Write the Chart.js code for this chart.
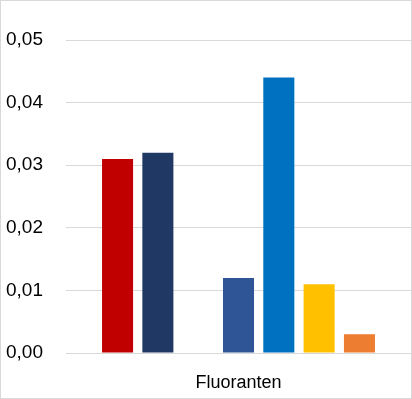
<!DOCTYPE html>
<html lang="en">
<head>
    <meta charset="UTF-8">
    <title>Fluoranten</title>
    <style>
        body { margin: 0; background: #fff; }
        #wrap {
            width: 410px;
            height: 397px;
            border: 1px solid #d9d9d9;
        }
        canvas { display: block; }
    </style>
</head>
<body>
    <div id="wrap"><canvas id="chart" width="410" height="397"></canvas></div>
    <script src="https://cdn.jsdelivr.net/npm/chart.js"></script>
    <script>
        const categories = ['Fluoranten'];
        const seriesNames = ['S1', 'S2', 'S3', 'S4', 'S5', 'S6', 'S7'];
        const seriesValues = [[0.031], [0.032], [null], [0.012], [0.044], [0.011], [0.003]];
        const seriesColors = ['#C00000', '#203864', '#A5A5A5', '#2F5597', '#0070C0', '#FFC000', '#ED7D31'];
        const yTicks = [0, 0.01, 0.02, 0.03, 0.04, 0.05];

        const ctx = document.getElementById('chart').getContext('2d');
        new Chart(ctx, {
            type: 'bar',
            data: {
                labels: categories,
                datasets: seriesNames.map((name, i) => ({
                    label: name,
                    data: seriesValues[i],
                    backgroundColor: seriesColors[i],
                    categoryPercentage: 0.818,
                    barPercentage: 0.77
                }))
            },
            options: {
                responsive: false,
                animation: false,
                layout: { padding: { top: 39, right: 0, left: 4, bottom: 0 } },
                plugins: { legend: { display: false }, tooltip: { enabled: false } },
                scales: {
                    x: {
                        grid: { display: false },
                        border: { display: false },
                        afterFit: (axis) => { axis.height = 45; },
                        ticks: { color: '#000', font: { family: 'Liberation Sans', size: 18 }, padding: 11 }
                    },
                    y: {
                        min: 0,
                        max: 0.05,
                        afterBuildTicks: (axis) => { axis.ticks = yTicks.map(v => ({ value: v })); },
                        afterFit: (axis) => { axis.width = 61; },
                        grid: { color: '#d9d9d9', lineWidth: 1, drawTicks: false },
                        border: { display: false },
                        ticks: {
                            color: '#000',
                            padding: 23,
                            font: { family: 'Liberation Sans', size: 19 },
                            callback: (v) => v.toFixed(2).replace('.', ',')
                        }
                    }
                }
            }
        });
    </script>
</body>
</html>
